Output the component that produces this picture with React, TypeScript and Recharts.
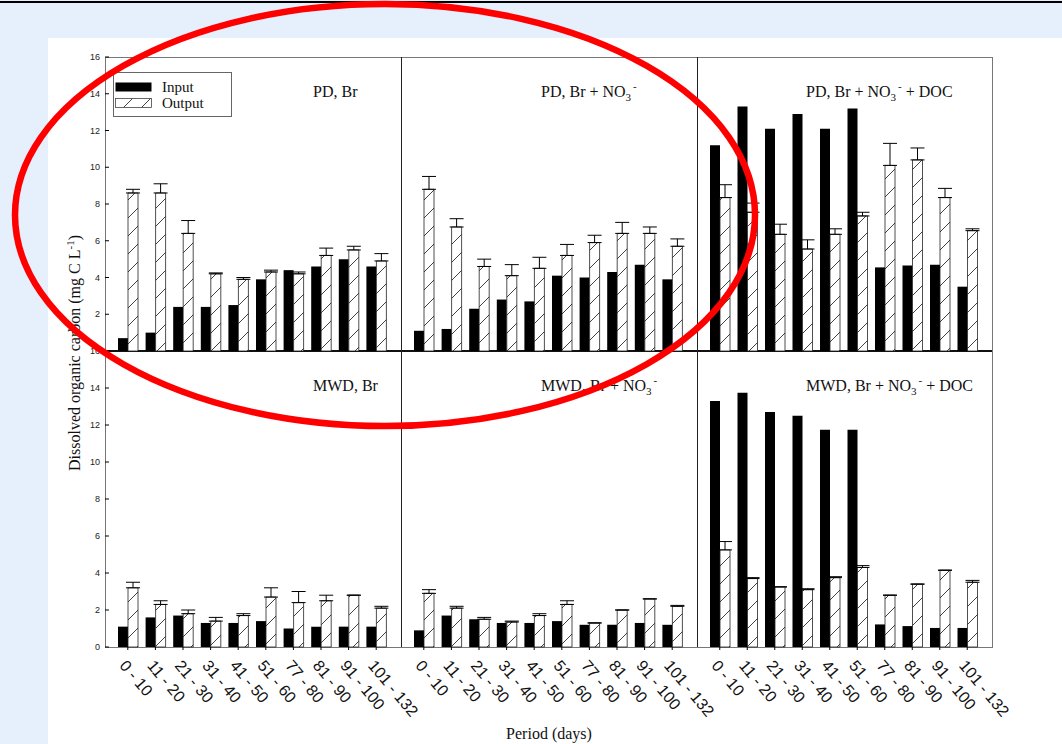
import React from "react";
import { BarChart, Bar, XAxis, YAxis, ErrorBar, Legend } from "recharts";

// periods on the x axis of every panel
const periods = ["0 - 10", "11 - 20", "21 - 30", "31 - 40", "41 - 50", "51 - 60", "77 - 80", "81 - 90", "91 - 100", "101 - 132"];

// PD, Br
const pdBrInput = [0.7, 1.0, 2.4, 2.4, 2.5, 3.9, 4.4, 4.6, 5.0, 4.6];
const pdBrOutput = [8.6, 8.6, 6.4, 4.2, 3.9, 4.3, 4.2, 5.2, 5.5, 4.9];
const pdBrError = [0.2, 0.5, 0.7, 0.05, 0.1, 0.1, 0.1, 0.4, 0.2, 0.4];

// PD, Br + NO3-
const pdNo3Input = [1.1, 1.2, 2.3, 2.8, 2.7, 4.1, 4.0, 4.3, 4.7, 3.9];
const pdNo3Output = [8.8, 6.75, 4.6, 4.1, 4.5, 5.2, 5.9, 6.4, 6.4, 5.7];
const pdNo3Error = [0.7, 0.45, 0.4, 0.6, 0.6, 0.6, 0.4, 0.6, 0.35, 0.4];

// PD, Br + NO3- + DOC
const pdDocInput = [11.2, 13.3, 12.1, 12.9, 12.1, 13.2, 4.55, 4.65, 4.7, 3.5];
const pdDocOutput = [8.35, 7.55, 6.35, 5.55, 6.35, 7.35, 10.1, 10.4, 8.35, 6.55];
const pdDocError = [0.7, 0.5, 0.55, 0.5, 0.3, 0.2, 1.2, 0.65, 0.5, 0.1];

// MWD, Br
const mwdBrInput = [1.1, 1.6, 1.7, 1.3, 1.3, 1.4, 1.0, 1.1, 1.1, 1.1];
const mwdBrOutput = [3.2, 2.3, 1.8, 1.4, 1.7, 2.7, 2.4, 2.5, 2.8, 2.1];
const mwdBrError = [0.3, 0.2, 0.2, 0.2, 0.1, 0.5, 0.6, 0.3, 0, 0.1];

// MWD, Br + NO3-
const mwdNo3Input = [0.9, 1.7, 1.5, 1.3, 1.3, 1.4, 1.2, 1.2, 1.3, 1.2];
const mwdNo3Output = [2.9, 2.1, 1.5, 1.35, 1.7, 2.3, 1.3, 2.0, 2.6, 2.2];
const mwdNo3Error = [0.2, 0.1, 0.1, 0.05, 0.1, 0.2, 0, 0, 0, 0.05];

// MWD, Br + NO3- + DOC
const mwdDocInput = [13.3, 13.75, 12.7, 12.5, 11.75, 11.75, 1.22, 1.13, 1.03, 1.03];
const mwdDocOutput = [5.25, 3.7, 3.25, 3.1, 3.75, 4.3, 2.8, 3.4, 4.15, 3.5];
const mwdDocError = [0.45, 0.05, 0, 0.05, 0.05, 0.1, 0, 0, 0, 0.1];

const majorTicksTop = [2, 4, 6, 8, 10, 12, 14, 16];
const majorTicksBottom = [0, 2, 4, 6, 8, 10, 12, 14, 16];
const minorTicks = [0, 1, 2, 3, 4, 5, 6, 7, 8, 9, 10, 11, 12, 13, 14, 15, 16];

const SERIF = "'Liberation Serif', 'Times New Roman', serif";
const SANS = "'Liberation Sans', Arial, sans-serif";

const panelXs = [105, 401, 697];
const panelWs = [296, 296, 295];

function makeRows(input: number[], output: number[], err: number[]) {
  return periods.map((p, i) => ({ period: p, input: input[i], output: output[i], err: [0, err[i]] }));
}

function PeriodTick(props: any) {
  const { x, y, payload } = props;
  const tx = x - 9;
  const ty = y + 16;
  return (
    <text x={tx} y={ty} transform={`rotate(50 ${tx} ${ty})`} textAnchor="start" fontSize={16} fontFamily={SANS} fill="#111">
      {payload.value}
    </text>
  );
}

function LegendBox(props: any) {
  const items = props.payload || [];
  return (
    <div style={{ width: 117, height: 43, border: "1px solid #666", background: "#fff", position: "relative", fontFamily: SERIF, fontSize: 15, color: "#111" }}>
      {items.map((it: any, i: number) => (
        <div key={it.value} style={{ position: "absolute", left: 1, top: 8 + i * 16, height: 12, display: "flex", alignItems: "center" }}>
          <svg width={37} height={10} style={{ display: "block" }}>
            <rect x={0.5} y={0.5} width={36} height={9} fill={it.value === "Input" ? "#000" : "url(#hatch)"} stroke={it.value === "Input" ? "none" : "#444"} strokeWidth={0.8} />
          </svg>
          <span style={{ marginLeft: 10, lineHeight: "12px" }}>{it.value}</span>
        </div>
      ))}
    </div>
  );
}

function Panel({ rows, col, row, legend }: { rows: any[]; col: number; row: number; legend?: boolean }) {
  const left = panelXs[col];
  const w = panelWs[col];
  const top = row === 0 ? 57 : 351;
  const h = row === 0 ? 294 : 296;
  const axisH = row === 1 ? 80 : 0;
  return (
    <div style={{ position: "absolute", left: left - 40, top: top - 10 }}>
      <BarChart width={w + 90} height={h + 20 + axisH} data={rows} margin={{ top: 10, right: 50, bottom: 10, left: 0 }} barSize={10} barGap={0}>
        <XAxis
          dataKey="period"
          hide={row === 0}
          height={axisH}
          padding={{ left: 9, right: 11 }}
          axisLine={false}
          tickLine={{ stroke: "#000" }}
          tickSize={3}
          tickMargin={0}
          interval={0}
          tick={<PeriodTick />}
        />
        <YAxis
          yAxisId="l"
          domain={[0, 16]}
          ticks={col === 0 ? (row === 0 ? majorTicksTop : majorTicksBottom) : minorTicks}
          width={40}
          axisLine={false}
          tickLine={{ stroke: "#000" }}
          tickSize={-4}
          tickMargin={9}
          tick={col === 0 ? { fontSize: 9, fontFamily: SANS, fill: "#222" } : false}
        />
        <YAxis yAxisId="r" orientation="right" domain={[0, 16]} ticks={minorTicks} width={0} axisLine={false} tickLine={{ stroke: "#000" }} tickSize={-3} tick={false} />
        <Bar yAxisId="l" dataKey="input" name="Input" fill="#000" isAnimationActive={false} />
        <Bar yAxisId="l" dataKey="output" name="Output" fill="url(#hatch)" stroke="#222" strokeWidth={0.8} isAnimationActive={false}>
          <ErrorBar dataKey="err" width={7} stroke="#000" strokeWidth={1} direction="y" />
        </Bar>
        {legend && (
          <Legend layout="vertical" align="center" verticalAlign="middle" wrapperStyle={{ left: 48, top: 25, width: 119, height: 45 }} content={<LegendBox />} />
        )}
      </BarChart>
    </div>
  );
}

function Title({ x, y, base, no3, doc }: { x: number; y: number; base: string; no3?: boolean; doc?: boolean }) {
  return (
    <text x={x} y={y} fontFamily={SERIF} fontSize={16} fill="#111">
      {base}
      {no3 && (
        <>
          {" + NO"}
          <tspan dy={4} fontSize={11}>3</tspan>
          <tspan dx={2} dy={-11} fontSize={11}>-</tspan>
          <tspan dy={7}>{doc ? " + DOC" : ""}</tspan>
        </>
      )}
    </text>
  );
}

export default function App() {
  return (
    <div style={{ position: "absolute", left: 0, top: 0, width: 1062, height: 744, background: "#E6EFFC", overflow: "hidden" }}>
      <svg width={0} height={0} style={{ position: "absolute" }}>
        <defs>
          <pattern id="hatch" patternUnits="userSpaceOnUse" width={18} height={18}>
            <rect width={18} height={18} fill="#fff" />
            <path d="M0,18 L18,0" stroke="#111" strokeWidth={0.8} />
          </pattern>
        </defs>
      </svg>
      <div style={{ position: "absolute", left: 48, top: 38, right: 0, bottom: 0, background: "#fff" }} />
      {/* panel frame */}
      <div style={{ position: "absolute", left: 105, top: 57, width: 886, height: 589, border: "1px solid #777" }} />
      <div style={{ position: "absolute", left: 105, top: 350, width: 887, height: 2, background: "#111" }} />
      <div style={{ position: "absolute", left: 401, top: 57, width: 1, height: 590, background: "#222" }} />
      <div style={{ position: "absolute", left: 697, top: 57, width: 1, height: 590, background: "#222" }} />

      <Panel rows={makeRows(pdBrInput, pdBrOutput, pdBrError)} col={0} row={0} legend />
      <Panel rows={makeRows(pdNo3Input, pdNo3Output, pdNo3Error)} col={1} row={0} />
      <Panel rows={makeRows(pdDocInput, pdDocOutput, pdDocError)} col={2} row={0} />
      <Panel rows={makeRows(mwdBrInput, mwdBrOutput, mwdBrError)} col={0} row={1} />
      <Panel rows={makeRows(mwdNo3Input, mwdNo3Output, mwdNo3Error)} col={1} row={1} />
      <Panel rows={makeRows(mwdDocInput, mwdDocOutput, mwdDocError)} col={2} row={1} />

      <svg width={1062} height={744} style={{ position: "absolute", left: 0, top: 0, pointerEvents: "none" }}>
        <rect x={0} y={1} width={1062} height={2} fill="#000" />
        <Title x={313} y={97} base="PD, Br" />
        <Title x={541} y={97} base="PD, Br" no3 />
        <Title x={806} y={97} base="PD, Br" no3 doc />
        <Title x={313} y={391} base="MWD, Br" />
        <Title x={541} y={391} base="MWD, Br" no3 />
        <Title x={806} y={391} base="MWD, Br" no3 doc />
        <text transform="translate(80 353) rotate(-90)" textAnchor="middle" fontFamily={SERIF} fontSize={16} fill="#111">
          Dissolved organic carbon (mg C L<tspan dy={-6} fontSize={11}>-1</tspan>
          <tspan dy={6}>)</tspan>
        </text>
        <text x={549} y={739} textAnchor="middle" fontFamily={SERIF} fontSize={16} fill="#111">
          Period (days)
        </text>
        <ellipse cx={385} cy={215} rx={370} ry={211} fill="none" stroke="#FF0000" strokeWidth={6.5} />
      </svg>
    </div>
  );
}
